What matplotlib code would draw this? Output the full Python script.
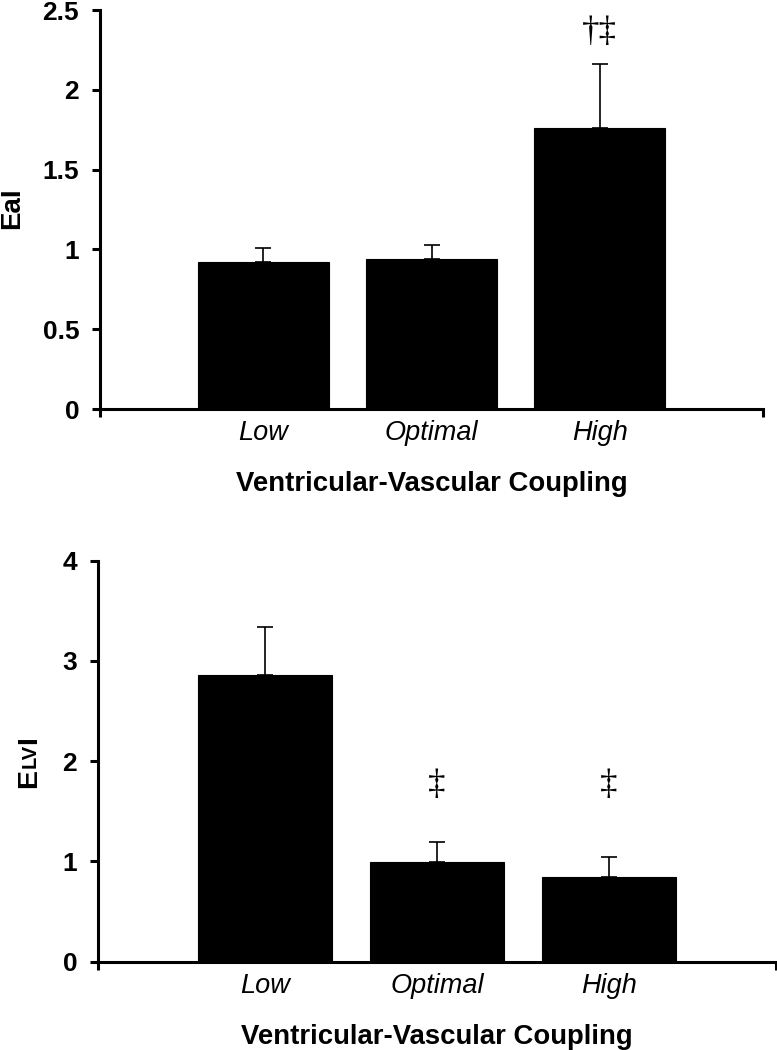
# two-panel bar chart: EaI and ELVI by ventricular-vascular coupling group
import matplotlib
matplotlib.use("Agg")
import matplotlib.pyplot as plt
import numpy as np

plt.rcParams["font.family"] = ["Liberation Sans", "DejaVu Sans"]

categories = ["Low", "Optimal", "High"]
eai_mean = [0.92, 0.94, 1.76]
eai_sem = [0.09, 0.09, 0.40]
eai_marks = ["", "", "\u2020\u2021"]
eai_mark_y = 2.36
elvi_mean = [2.86, 0.99, 0.84]
elvi_sem = [0.48, 0.20, 0.20]
elvi_marks = ["", "\u2021", "\u2021"]
elvi_mark_y = 1.76
eai_ticks = [0, 0.5, 1, 1.5, 2, 2.5]
eai_ticklabels = ["0", "0.5", "1", "1.5", "2", "2.5"]
elvi_ticks = [0, 1, 2, 3, 4]
elvi_ticklabels = ["0", "1", "2", "3", "4"]
XLABEL = "Ventricular-Vascular Coupling"

W, H = 777, 1050
LW = 2.2


def panel(fig, rect, mean, sem, marks, mark_y, ticks, ticklabels):
    ax = fig.add_axes(rect)
    x = np.arange(len(categories))
    ax.bar(x, mean, 0.78, color="black", edgecolor="black", linewidth=0.8, zorder=2)
    ax.errorbar(x, mean, yerr=[np.zeros(len(sem)), sem], fmt="none", ecolor="black",
                elinewidth=1.2, capsize=5.5, capthick=1.2, zorder=3)
    for xi, m in zip(x, marks):
        if m:
            ax.text(xi, mark_y, m, ha="center", va="center", fontsize=25,
                    family=["Liberation Serif", "DejaVu Serif"])
    ax.set_xlim(-0.97, 2.97)
    ax.set_ylim(ticks[0], ticks[-1])
    ax.set_yticks(ticks, ticklabels, fontsize=19, fontweight="bold")
    ax.set_xticks(x, categories, fontsize=19.5, fontstyle="italic")
    ax.set_xticks([-0.97, 2.97], minor=True)
    ax.tick_params(axis="x", which="major", length=0, pad=8)
    ax.tick_params(axis="x", which="minor", length=6, width=LW, direction="out")
    ax.tick_params(axis="y", length=6, width=LW, pad=9, direction="out")
    for s in ["top", "right"]:
        ax.spines[s].set_visible(False)
    for s in ["left", "bottom"]:
        ax.spines[s].set_linewidth(LW)
    ax.set_xlabel(XLABEL, fontsize=19.8, fontweight="bold")
    ax.xaxis.set_label_coords(0.5, -0.155)
    return ax


def stacked_ylabel(fig, x_px, yc_px, parts):
    # pieces drawn bottom-to-top with a shared baseline (small caps for LV)
    texts = []
    for s, size in parts:
        t = fig.text(x_px / W, 0, s, rotation=90, rotation_mode="anchor",
                     ha="left", va="baseline", fontsize=size, fontweight="bold")
        texts.append(t)
    fig.canvas.draw()
    r = fig.canvas.get_renderer()
    lens = [t.get_window_extent(r).height for t in texts]
    y = (H - yc_px) - sum(lens) / 2
    for t, L in zip(texts, lens):
        t.set_position((x_px / W, y / H))
        y += L


fig = plt.figure(figsize=(W / 100, H / 100), dpi=100)
panel(fig, [100 / W, 1 - 409 / H, 663 / W, 399 / H],
      eai_mean, eai_sem, eai_marks, eai_mark_y, eai_ticks, eai_ticklabels)
panel(fig, [98 / W, 1 - 961.7 / H, 678 / W, 401 / H],
      elvi_mean, elvi_sem, elvi_marks, elvi_mark_y, elvi_ticks, elvi_ticklabels)

stacked_ylabel(fig, 19, 208, [("EaI", 20)])
stacked_ylabel(fig, 36, 762, [("E", 20.5), ("LV", 14.5), ("I", 20.5)])

fig.savefig("out.png", dpi=100)
